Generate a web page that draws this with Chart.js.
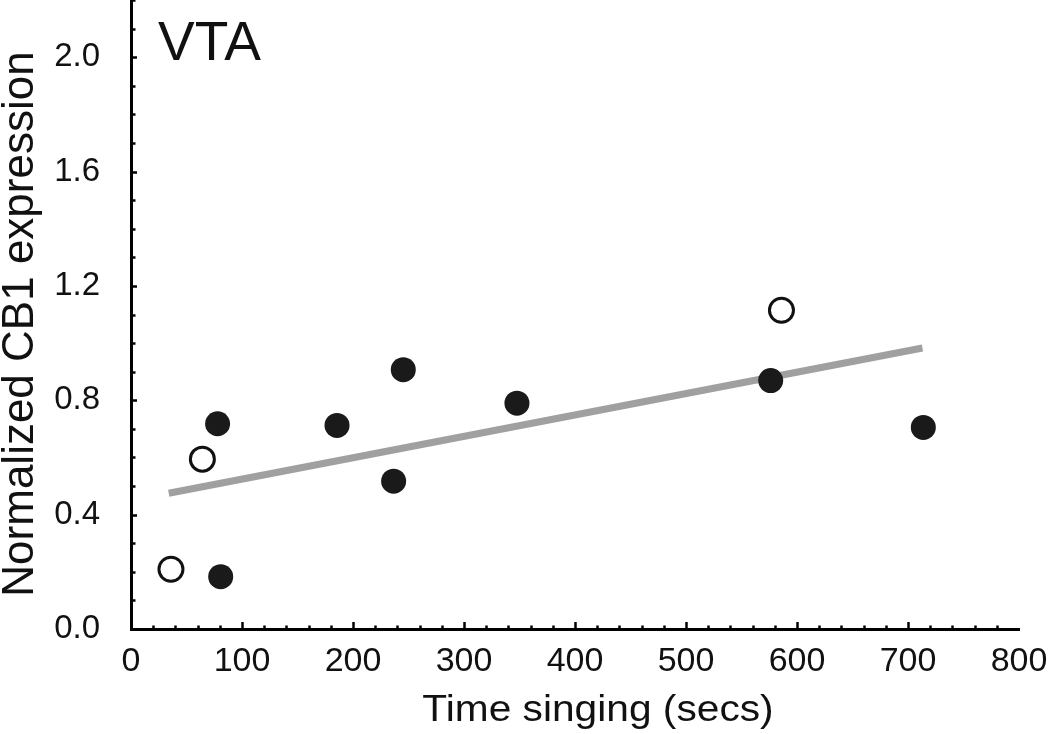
<!DOCTYPE html>
<html>
<head>
<meta charset="utf-8">
<script src="https://cdn.jsdelivr.net/npm/chart.js@4.4.1/dist/chart.umd.min.js"></script>
<style>
  html, body { margin: 0; padding: 0; background: #fff; }
  #wrap { width: 1050px; height: 734px; }
</style>
</head>
<body>
<div id="wrap"><canvas id="c" width="1050" height="734"></canvas></div>
<script>
// ---- data ----
const openX   = [36, 64.3, 586];
const openY   = [0.209, 0.594, 1.115];
const filledX = [78, 80.8, 185.6, 236.6, 245.3, 347.7, 576.3, 713.8];
const filledY = [0.718, 0.183, 0.712, 0.517, 0.907, 0.79, 0.869, 0.705];
const fitX    = [34, 713];
const fitY    = [0.475, 0.983];
const xTickValues = [0, 100, 200, 300, 400, 500, 600, 700, 800];
const yTickLabels = ['0.0', '0.4', '0.8', '1.2', '1.6', '2.0'];
const panelLabel = 'VTA';
const xTitle = 'Time singing (secs)';
const yTitle = 'Normalized CB1 expression';

const FONT = "'Liberation Sans', Arial, Helvetica, sans-serif";

const toPts = (xs, ys) => xs.map((x, i) => ({ x: x, y: ys[i] }));

const decorPlugin = {
  id: 'decor',
  afterDraw(chart) {
    const ctx = chart.ctx;
    const xs = chart.scales.x, ys = chart.scales.y;
    const x0 = xs.getPixelForValue(0);
    const y0 = ys.getPixelForValue(0);
    ctx.save();
    ctx.strokeStyle = '#000';
    ctx.lineWidth = 2.5;
    for (let v = 20; v <= 780; v += 20) {
      const px = Math.round(xs.getPixelForValue(v)) + 0.5;
      const len = (v % 100 === 0) ? 7 : 3.5;
      ctx.beginPath(); ctx.moveTo(px, y0); ctx.lineTo(px, y0 - len); ctx.stroke();
    }
    for (let k = 1; k <= 22; k++) {
      const v = k / 10;
      const py = Math.round(ys.getPixelForValue(v)) + 0.5;
      const len = (k % 4 === 0) ? 6 : 4.5;
      ctx.beginPath(); ctx.moveTo(x0, py); ctx.lineTo(x0 + len, py); ctx.stroke();
    }
    ctx.fillStyle = '#111';
    ctx.font = '55px ' + FONT;
    ctx.textAlign = 'left';
    ctx.textBaseline = 'alphabetic';
    ctx.fillText(panelLabel, 158, 60);
    ctx.save();
    ctx.translate(598, 721);
    ctx.scale(1.1, 1);
    ctx.font = '37px ' + FONT;
    ctx.textAlign = 'center';
    ctx.fillText(xTitle, 0, 0);
    ctx.restore();
    ctx.save();
    ctx.translate(33, 324);
    ctx.rotate(-Math.PI / 2);
    ctx.font = '44px ' + FONT;
    ctx.textAlign = 'center';
    ctx.fillText(yTitle, 0, 0);
    ctx.restore();
    ctx.restore();
  }
};

new Chart(document.getElementById('c'), {
  type: 'scatter',
  data: {
    datasets: [
      {
        label: 'filled',
        data: toPts(filledX, filledY),
        backgroundColor: '#1a1a1a',
        borderColor: '#1a1a1a',
        borderWidth: 0,
        pointRadius: 12.5,
        pointHoverRadius: 12.5,
        order: 1
      },
      {
        label: 'open',
        data: toPts(openX, openY),
        backgroundColor: '#ffffff',
        borderColor: '#111',
        borderWidth: 3,
        pointRadius: 12,
        pointHoverRadius: 12,
        order: 2
      },
      {
        type: 'line',
        label: 'fit',
        data: toPts(fitX, fitY),
        borderColor: '#a0a0a0',
        borderWidth: 7,
        pointRadius: 0,
        fill: false,
        showLine: true,
        borderCapStyle: 'butt',
        order: 3
      }
    ]
  },
  options: {
    responsive: false,
    animation: false,
    devicePixelRatio: 1,
    layout: { autoPadding: false, padding: { left: 0, right: 31, top: 0, bottom: 0 } },
    plugins: {
      legend: { display: false },
      tooltip: { enabled: false },
      title: { display: false }
    },
    scales: {
      x: {
        type: 'linear',
        min: 0,
        max: 800,
        afterFit(scale) {
          scale.height = 105;
          scale.paddingLeft = 0; scale.paddingRight = 0;
        },
        afterBuildTicks(scale) { scale.ticks = xTickValues.map(v => ({ value: v })); },
        grid: { display: false, drawTicks: false },
        border: { display: true, color: '#000', width: 3 },
        ticks: {
          font: { family: FONT, size: 34 },
          color: '#111',
          padding: 12,
          maxRotation: 0,
          minRotation: 0,
          autoSkip: false,
          callback: (v) => String(v)
        }
      },
      y: {
        type: 'linear',
        min: 0,
        max: 2.2,
        afterFit(scale) {
          scale.width = 131;
          scale.paddingTop = 0; scale.paddingBottom = 0;
        },
        afterBuildTicks(scale) { scale.ticks = yTickLabels.map(s => ({ value: parseFloat(s) })); },
        grid: { display: false, drawTicks: false },
        border: { display: true, color: '#000', width: 3 },
        ticks: {
          font: { family: FONT, size: 33 },
          color: '#111',
          padding: 31,
          autoSkip: false,
          callback: (v) => Number(v).toFixed(1)
        }
      }
    }
  },
  plugins: [decorPlugin]
});
</script>
</body>
</html>
